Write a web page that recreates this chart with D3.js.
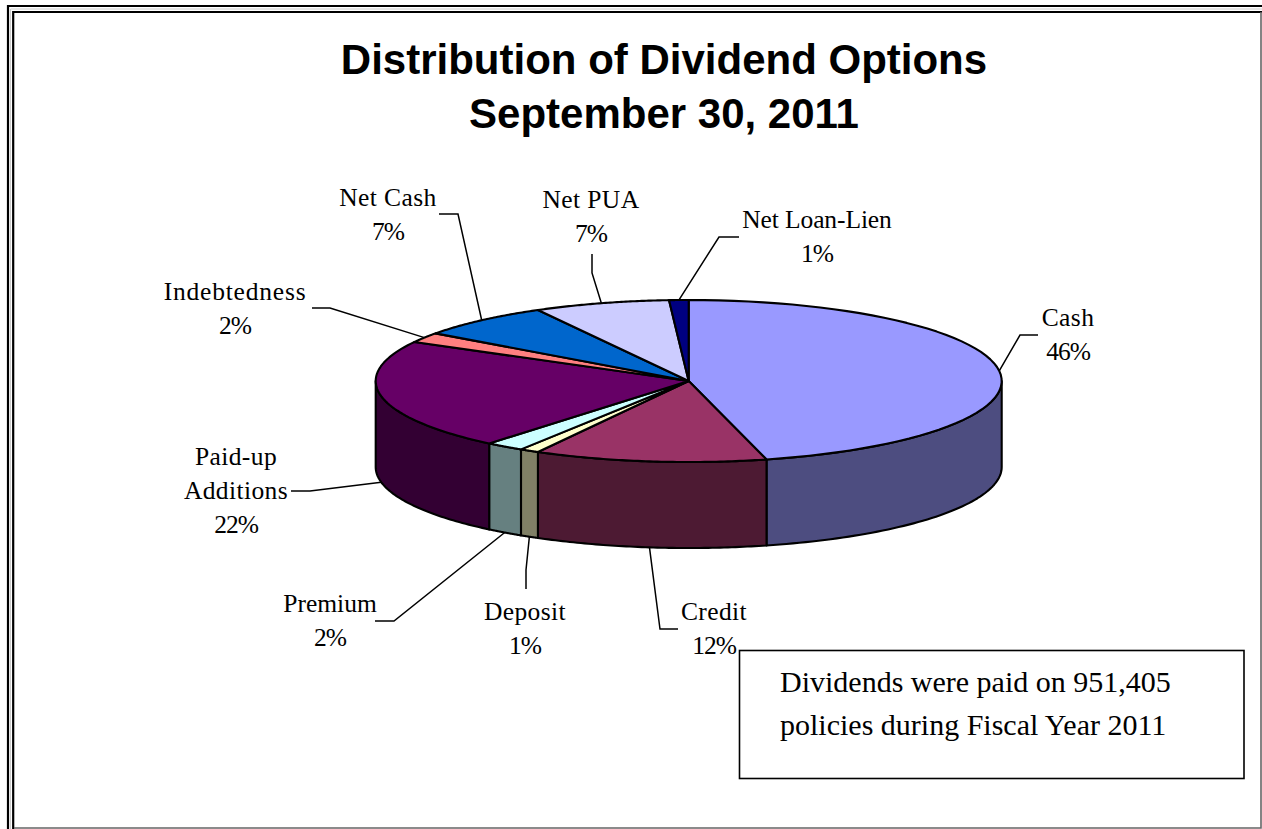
<!DOCTYPE html>
<html>
<head>
<meta charset="utf-8">
<title>Distribution of Dividend Options</title>
<script src="https://cdnjs.cloudflare.com/ajax/libs/d3/7.8.5/d3.min.js"></script>
<style>
  html, body { margin: 0; padding: 0; background: #fff; overflow: hidden; }
  svg { display: block; }
  .title { font: bold 42px "Liberation Sans", Arial, sans-serif; text-anchor: middle; fill: #000; }
  .slice-label { font: 25.5px "Liberation Serif", "Times New Roman", serif; letter-spacing: 0.4px; text-anchor: middle; fill: #000; }
  .slice-label.pct { letter-spacing: -1px; }
  .note { font: 30px "Liberation Serif", "Times New Roman", serif; fill: #000; }
</style>
</head>
<body>
<svg id="chart" width="1262" height="829"></svg>
<script>
// Option names and their share of dividends, in percent, clockwise from 12 o'clock.
const categories = ["Cash", "Credit", "Deposit", "Premium", "Paid-up Additions", "Indebtedness", "Net Cash", "Net PUA", "Net Loan-Lien"];
const shares = [46, 12, 1, 2, 22, 2, 7, 7, 1];
const topColors = ["#9999FF", "#993366", "#FFFFCC", "#CCFFFF", "#660066", "#FF8080", "#0066CC", "#CCCCFF", "#000080"];
const wallColors = ["#4D4D80", "#4D1A33", "#808066", "#668080", "#330033", "#804040", "#003366", "#666680", "#000040"];
const titleLines = ["Distribution of Dividend Options", "September 30, 2011"];
const noteLines = ["Dividends were paid on 951,405", "policies during Fiscal Year 2011"];

// Label placement: text lines with their centre and first baseline, plus the leader's elbow.
const labelLayout = [
  { lines: ["Cash"],                x: 1068, y: 326, start: [1038, 335], elbow: [1020, 335] },
  { lines: ["Credit"],              x: 714,  y: 620, start: [678, 629],  elbow: [660, 629] },
  { lines: ["Deposit"],             x: 525,  y: 620, start: [526, 589],  elbow: [526, 570] },
  { lines: ["Premium"],             x: 330,  y: 612, start: [375, 621],  elbow: [394, 621], spacing: 0 },
  { lines: ["Paid-up", "Additions"], x: 236, y: 465, start: [291, 491],  elbow: [310, 491] },
  { lines: ["Indebtedness"],        x: 235,  y: 300, start: [312, 308],  elbow: [330, 308], spacing: 0.8 },
  { lines: ["Net Cash"],            x: 388,  y: 206, start: [439, 214],  elbow: [458, 214] },
  { lines: ["Net PUA"],             x: 591,  y: 208, start: [592, 254],  elbow: [592, 273] },
  { lines: ["Net Loan-Lien"],       x: 817,  y: 228, start: [739, 237],  elbow: [719, 237], spacing: -0.1 }
];

const svg = d3.select("#chart");

// Double rule along the top and left, thin grey rule on the right and bottom.
const frame = svg.append("g").attr("fill", "none");
const frameLines = [
  { d: "M8,829V6H1262", stroke: "#000", w: 2.2 },
  { d: "M13.2,829V12H1262", stroke: "#000", w: 2.2 },
  { d: "M10.5,829V9H1262", stroke: "#ccc", w: 1 },
  { d: "M14,828H1261V12", stroke: "#666", w: 1.6 }
];
frame.selectAll("path").data(frameLines).join("path")
  .attr("d", d => d.d).attr("stroke", d => d.stroke).attr("stroke-width", d => d.w);

// Title
svg.append("g").selectAll("text").data(titleLines).join("text")
  .attr("class", "title").attr("x", 664).attr("y", (d, i) => 74 + i * 54).text(d => d);

// The tilted pie is a unit circle projected through two linear scales.
const cx = 688.7, cy = 381, rx = 313, ry = 81, depth = 86;
const xScale = d3.scaleLinear().domain([-1, 1]).range([cx - rx, cx + rx]);
const yScale = d3.scaleLinear().domain([-1, 1]).range([cy - ry, cy + ry]);
const rim = (a, drop = 0) => [xScale(Math.sin(a)), yScale(-Math.cos(a)) + drop];

const pie = d3.pie().sort(null).value((d, i) => shares[i]);
const arcs = pie(categories);
const pts = (a0, a1) => d3.range(0, 61).map(i => a0 + (a1 - a0) * i / 60);
const line = d3.line();

// Outer walls exist only on the near half of the rim.
const nearStart = Math.PI / 2, nearEnd = 3 * Math.PI / 2;
const walls = arcs
  .map((a, i) => ({ i, a0: Math.max(a.startAngle, nearStart), a1: Math.min(a.endAngle, nearEnd) }))
  .filter(d => d.a1 > d.a0);

const pieGroup = svg.append("g").attr("stroke", "#000").attr("stroke-width", 2.1).attr("stroke-linejoin", "round");
pieGroup.append("g").selectAll("path").data(walls).join("path")
  .attr("fill", d => wallColors[d.i])
  .attr("d", d => {
    const upper = pts(d.a0, d.a1).map(a => rim(a));
    const lower = pts(d.a1, d.a0).map(a => rim(a, depth));
    return line(upper.concat(lower)) + "Z";
  });
pieGroup.append("g").selectAll("path").data(arcs).join("path")
  .attr("fill", (d, i) => topColors[i])
  .attr("d", d => line([[cx, cy]].concat(pts(d.startAngle, d.endAngle).map(a => rim(a)))) + "Z");

// Leaders run from each label to the middle of its slice's visible outer edge.
const leaders = svg.append("g").attr("fill", "none").attr("stroke", "#000").attr("stroke-width", 1.5);
arcs.forEach((d, i) => {
  const mid = (d.startAngle + d.endAngle) / 2;
  const onNearSide = mid > nearStart && mid < nearEnd;
  const anchor = rim(mid, onNearSide ? depth : 0);
  const l = labelLayout[i];
  leaders.append("path").attr("d", line([l.start, l.elbow, anchor]));
});

// Slice labels: name lines followed by the percentage.
const labels = svg.append("g");
labelLayout.forEach((l, i) => {
  l.lines.forEach((t, k) => {
    const name = labels.append("text").attr("class", "slice-label")
      .attr("x", l.x).attr("y", l.y + k * 34).text(t);
    if (l.spacing !== undefined) name.style("letter-spacing", l.spacing + "px");
  });
  labels.append("text").attr("class", "slice-label pct")
    .attr("x", l.x).attr("y", l.y + l.lines.length * 34).text(shares[i] + "%");
});

// Note box in the lower right.
svg.append("rect").attr("x", 739.5).attr("y", 650.5).attr("width", 504.5).attr("height", 128)
  .attr("fill", "#fff").attr("stroke", "#000").attr("stroke-width", 1.6);
svg.append("g").selectAll("text").data(noteLines).join("text")
  .attr("class", "note").attr("x", 780).attr("y", (d, i) => 692 + i * 43).text(d => d);
</script>
</body>
</html>
